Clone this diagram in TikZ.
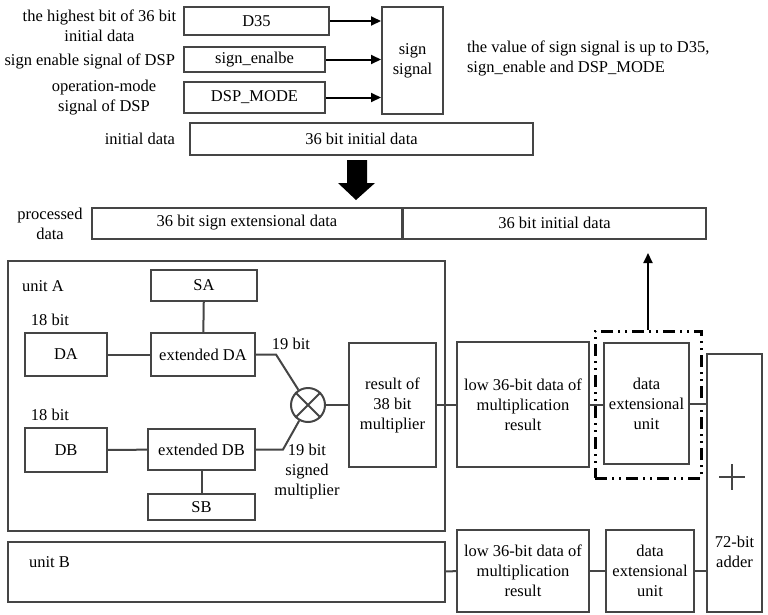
\documentclass[tikz,border=0pt]{standalone}
\usepackage{fontspec}
\setmainfont{Liberation Serif}
\usetikzlibrary{arrows.meta}
\definecolor{vienxam}{gray}{0.27}

\begin{document}
\begin{tikzpicture}[x=1pt, y=-1pt, line width=2pt, vienxam,
		khoi/.style={draw=vienxam, inner sep=0pt, align=center, text=black, font=\fontsize{16.5}{20}\selectfont},
		chu/.style={inner sep=0pt, align=center, text=black, font=\fontsize{16.5}{20}\selectfont},
		muiten/.style={black, -{Triangle[length=10pt,width=9pt]}}]
			\useasboundingbox (0,0) rectangle (768,614);
			% phan tren
			\node[khoi, minimum width=145pt, minimum height=28pt] (d35) at (256.5,21) {D35};
			\node[khoi, minimum width=141pt, minimum height=25pt] (sgnen) at (254.5,59.5) {sign\_enalbe};
			\node[khoi, minimum width=141pt, minimum height=31pt] (dspmode) at (254.5,97.5) {DSP\_MODE};
			\node[khoi, minimum width=61pt, minimum height=107pt] (sgnsig) at (412.5,60.5) {sign\\signal};
			\node[khoi, minimum width=343pt, minimum height=32pt] (initdata) at (361.5,139) {36 bit initial data};
			\node[chu] (lbhigh) at (99.5,25.5) {the highest bit of 36 bit\\initial data};
			\node[chu, anchor=east] (lbsgnen) at (176,61) {sign enable signal of DSP};
			\node[chu] (lbmode) at (104,98) {operation-mode\\signal of DSP};
			\node[chu, anchor=east] (lbinit) at (176,139) {initial data};
			\node[chu, anchor=west, align=left] (note) at (466,58) {the value of sign signal is up to D35,\\sign\_enable and DSP\_MODE};
			\draw[muiten] (d35.east) -- (d35.east -| sgnsig.west);
			\draw[muiten] (sgnen.east) -- (sgnen.east -| sgnsig.west);
			\draw[muiten] (dspmode.east) -- (dspmode.east -| sgnsig.west);
			\fill[black] (347,160) -- (367,160) -- (367,183) -- (375,183) -- (356,200) -- (338,183) -- (347,183) -- cycle;
			\node[khoi, minimum width=310pt, minimum height=31pt] (sext) at (247,223) {36 bit sign extensional data};
			\node[khoi, minimum width=303pt, minimum height=31pt] (sinit) at (554.5,223) {36 bit initial data};
			\node[chu] (lbproc) at (50,224) {processed\\data};
			% unit A
			\node[khoi, minimum width=437pt, minimum height=270pt] (unita) at (226.5,396) {};
			\node[chu, anchor=west] (lbunita) at (21,286) {unit A};
			\node[khoi, minimum width=106pt, minimum height=31pt] (sa) at (204,285.5) {SA};
			\node[chu] (bita) at (50,320) {18 bit};
			\node[khoi, minimum width=82pt, minimum height=43pt] (da) at (66,354.5) {DA};
			\node[khoi, minimum width=104pt, minimum height=43pt] (extda) at (203,354.5) {extended DA};
			\node[chu] (bitea) at (291,344) {19 bit};
			\node[khoi, circle, minimum size=34pt] (nhan) at (308,405) {};
			\node[khoi, minimum width=87pt, minimum height=124pt] (res) at (392.5,405) {result of\\38 bit\\multiplier};
			\node[chu] (bitb) at (50,415) {18 bit};
			\node[khoi, minimum width=82pt, minimum height=44pt] (db) at (66,450) {DB};
			\node[khoi, minimum width=107pt, minimum height=41pt] (extdb) at (201.5,449.5) {extended DB};
			\node[chu] (biteb) at (307,472) {19 bit\\signed\\multiplier};
			\node[khoi, minimum width=107pt, minimum height=26pt] (sb) at (201.5,507) {SB};
			\draw (nhan.north west) -- (nhan.south east) (nhan.north east) -- (nhan.south west);
			\draw (sa) -- (extda);
			\draw (da) -- (extda);
			\draw (db) -- (extdb);
			\draw (extdb) -- (sb);
			\draw (extda.east) -- ++(20,0) -- (nhan);
			\draw (extdb.east) -- ++(27,0) -- (nhan);
			\draw (nhan) -- (res);
			% unit B
			\node[khoi, minimum width=437pt, minimum height=60pt] (unitb) at (226.5,572) {};
			\node[chu, anchor=west] (lbunitb) at (28,562) {unit B};
			% ben phai
			\node[khoi, minimum width=132pt, minimum height=125pt] (lowa) at (523,404.5) {low 36-bit data of\\multiplication\\result};
			\node[khoi, minimum width=85pt, minimum height=121pt] (dexta) at (646.5,403.5) {data\\extensional\\unit};
			\node[draw=black, line width=3pt, dash pattern=on 12pt off 5pt on 2pt off 5pt on 2pt off 5pt, minimum width=106pt, minimum height=147pt] (vungmr) at (648,404.5) {};
			\coordinate (dinhmui) at (648,253);
			\draw[muiten] (vungmr.north) -- (dinhmui);
			\node[khoi, minimum width=55pt, minimum height=258pt] (adder) at (734.5,483) {};
			\draw[line width=1.5pt] (719,477) -- (745,477) (732,464) -- (732,490);
			\node[chu] (lbadder) at (734.5,552) {72-bit\\adder};
			\node[khoi, minimum width=132pt, minimum height=82pt] (lowb) at (523,571) {low 36-bit data of\\multiplication\\result};
			\node[khoi, minimum width=88pt, minimum height=82pt] (dextb) at (650,571) {data\\extensional\\unit};
			\draw (res.east) -- (res.east -| lowa.west);
			\draw (lowa.east) -- (lowa.east -| dexta.west);
			\draw (dexta.east) -- (dexta.east -| adder.west);
			\draw (unitb) -- (lowb);
			\draw (lowb) -- (dextb);
			\draw (dextb.east) -- (dextb.east -| adder.west);
		\end{tikzpicture}
\end{document}
